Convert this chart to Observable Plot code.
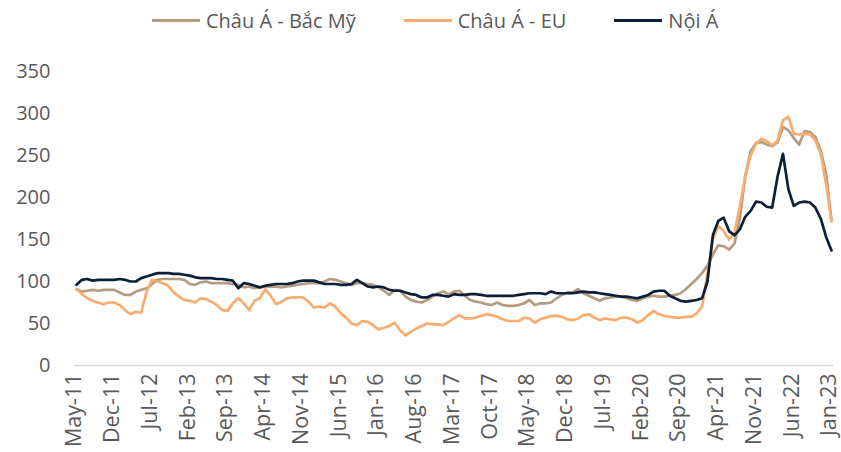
<!DOCTYPE html>
<html>
<head>
<meta charset="utf-8">
<script src="https://cdn.jsdelivr.net/npm/d3@7"></script>
<script src="https://cdn.jsdelivr.net/npm/@observablehq/plot@0.6"></script>
<style>
  html, body { margin: 0; padding: 0; background: #fff; }
  body { width: 841px; height: 452px; overflow: hidden; font-family: "Open Sans", sans-serif; }
  #legend { height: 40px; display: flex; align-items: center; padding-left: 152px; box-sizing: border-box; color: #595959; font-size: 20px; }
  .item { display: flex; align-items: center; margin-right: 48px; }
  .sw { width: 48px; height: 3px; margin-right: 6px; }
</style>
</head>
<body>
<div id="legend"></div>
<div id="chart"></div>
<script>
const seriesNames = ["Châu Á - Bắc Mỹ", "Châu Á - EU", "Nội Á"];
const seriesColors = ["#b49c80", "#fbab6e", "#0c1f38"];

const tickLabels = ["May-11","Dec-11","Jul-12","Feb-13","Sep-13","Apr-14","Nov-14","Jun-15","Jan-16","Aug-16","Mar-17","Oct-17","May-18","Dec-18","Jul-19","Feb-20","Sep-20","Apr-21","Nov-21","Jun-22","Jan-23"];
const yTicks = [0, 50, 100, 150, 200, 250, 300, 350];

const asiaNorthAmerica = [
  91,88,89,90,89,90,90,90,87,84,84,88,90,92,97,102,103,103,103,103,102,97,96,99,
  100,98,98,98,98,97,96,93,94,92,93,94,94,94,93,94,95,96,97,98,98,98,100,103,
  102,100,98,96,98,98,97,96,93,89,84,90,89,82,78,76,75,78,82,86,88,85,88,89,
  83,78,76,75,73,72,75,72,71,71,72,74,78,72,74,74,75,80,84,87,87,91,86,83,
  80,77,80,81,82,82,80,78,77,80,82,83,82,82,83,84,86,91,97,103,110,119,132,143,142,138,145,175,225,255,265,266,263,261,266,284,280,271,263,279,278,272,256,228,172
];
const asiaEU = [
  91,85,80,77,75,73,75,75,72,66,61,64,63,88,102,100,98,95,87,82,78,77,75,80,
  79,76,72,66,65,74,80,74,66,77,80,91,83,73,76,80,81,81,81,76,69,70,69,74,
  70,62,57,50,48,53,52,48,43,45,47,51,42,36,40,44,47,50,49,49,48,52,56,60,
  56,56,57,59,61,60,58,55,53,53,53,57,56,51,55,57,59,59,58,55,54,56,60,61,
  57,54,56,55,54,57,57,55,51,54,60,65,61,59,58,57,57,58,58,62,70,110,150,166,160,150,158,189,225,250,264,270,267,262,268,292,296,276,275,276,275,268,252,216,172
];
const intraAsia = [
  96,102,103,101,102,102,102,102,103,102,100,100,104,106,108,110,110,110,109,109,108,107,105,104,
  104,104,103,103,102,101,92,98,97,95,93,95,96,97,97,97,98,100,101,101,101,99,97,97,
  97,96,96,97,102,98,94,93,94,93,90,89,89,87,85,84,81,81,84,84,83,82,85,84,
  84,85,85,84,83,83,83,83,83,83,84,85,86,86,86,85,88,86,86,86,86,87,88,87,
  87,86,85,84,83,82,82,81,80,82,84,88,89,89,83,80,77,76,77,78,80,100,155,172,176,160,155,162,177,184,195,194,189,188,225,252,210,190,194,195,194,188,175,153,137
];

const fmt = d3.utcFormat("%b-%y");
const months = d3.utcMonth.range(new Date(Date.UTC(2011, 4, 1)), new Date(Date.UTC(2023, 1, 1))).map(fmt);

const allSeries = [asiaNorthAmerica, asiaEU, intraAsia];
const rows = [];
allSeries.forEach((vals, s) => vals.forEach((v, i) => rows.push({month: months[i], value: v, series: seriesNames[s]})));

// legend
const legend = document.getElementById("legend");
seriesNames.forEach((n, i) => {
  const it = document.createElement("div");
  it.className = "item";
  it.innerHTML = `<span class="sw" style="background:${seriesColors[i]}"></span><span>${n}</span>`;
  legend.appendChild(it);
});

const chart = Plot.plot({
  width: 841,
  height: 412,
  marginLeft: 76,
  marginRight: 10,
  marginTop: 31,
  marginBottom: 87,
  style: {fontFamily: "Open Sans", fontSize: "20px", color: "#595959", background: "#fff", overflow: "visible"},
  x: {type: "point", domain: months, padding: 0, label: null, axis: null},
  y: {domain: [0, 350], label: null},
  marks: [
    Plot.ruleY([0], {stroke: "#d9d9d9", strokeWidth: 1.5, insetLeft: -2, insetRight: -2}),
    Plot.axisY({ticks: yTicks, tickSize: 0, tickPadding: 26, label: null}),
    Plot.text(tickLabels, {x: d => d, y: 0, text: d => d, rotate: -90, textAnchor: "end", lineAnchor: "middle", dy: 8, dx: -2, fontSize: 21.5, fill: "#595959"}),
    ...seriesNames.map((n, s) => Plot.line(rows.filter(d => d.series === n), {x: "month", y: "value", stroke: seriesColors[s], strokeWidth: 2.7, strokeLinejoin: "round"}))
  ]
});
document.getElementById("chart").appendChild(chart);
</script>
</body>
</html>
